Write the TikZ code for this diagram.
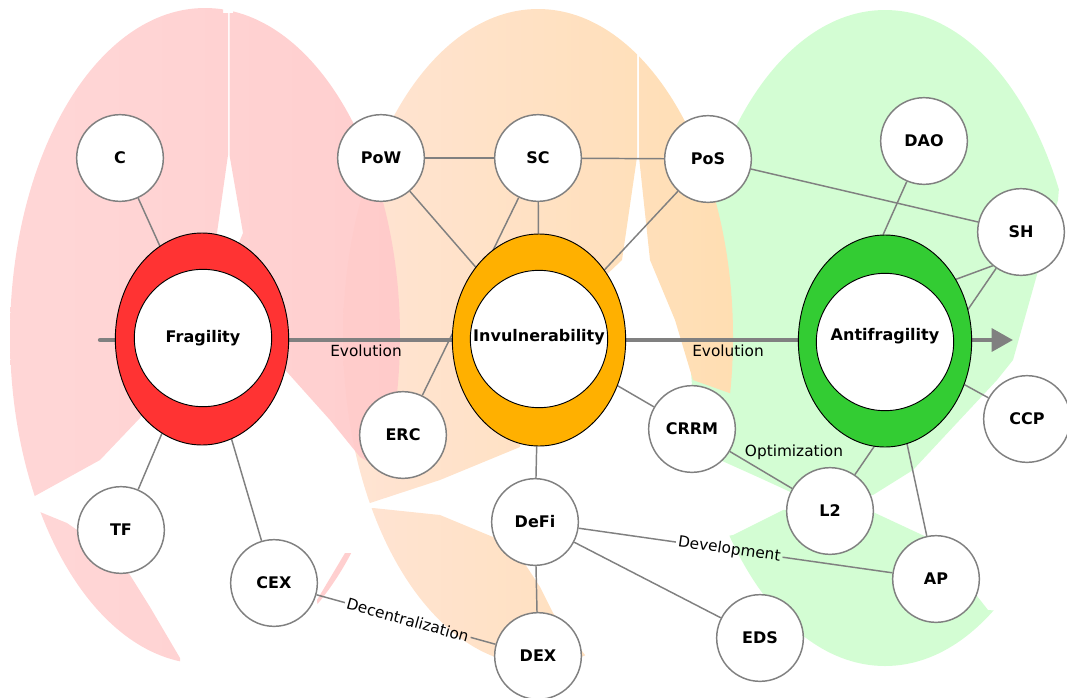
\documentclass[tikz,border=0pt]{standalone}
\usepackage{fontspec}
\setmainfont{DejaVu Sans}
\usetikzlibrary{shapes.geometric, arrows.meta}
\pgfdeclarelayer{blobs}
\pgfdeclarelayer{edges}
\pgfsetlayers{blobs,edges,main}
\definecolor{ringred}{HTML}{FF3333}
\definecolor{ringorange}{HTML}{FFB000}
\definecolor{ringgreen}{HTML}{33CC33}
\definecolor{edgegray}{HTML}{808080}
\definecolor{blobgreen}{HTML}{D3FDD3}
\definecolor{oraL}{HTML}{FFE4D4}
\definecolor{oraR}{HTML}{FFDEB2}
\definecolor{redL}{HTML}{FFD3D3}
\definecolor{redM}{HTML}{FFC0C0}
\definecolor{redR}{HTML}{FFCACA}
\tikzset{
  leaf/.style={circle, draw=edgegray, line width=1.1pt, fill=white, minimum size=65pt, inner sep=0pt, font=\fontsize{12}{14}\selectfont\bfseries},
  ringstyle/.style={ellipse, draw=black, line width=0.7pt, minimum width=130pt, minimum height=159pt, inner sep=0pt},
  corestyle/.style={ellipse, draw=black, line width=0.7pt, fill=white, minimum width=103pt, minimum height=103pt, inner sep=0pt},
  coretext/.style={inner sep=0pt, font=\fontsize{12}{14}\selectfont\bfseries},
  edgeline/.style={draw=edgegray, line width=1.1pt},
  evoarrow/.style={draw=edgegray, line width=3.2pt, line cap=round, -{Triangle[length=16pt,width=17pt]}},
  lbl/.style={font=\fontsize{11.5}{13}\selectfont, inner sep=1.5pt},
}
\begin{document}
\begin{tikzpicture}[x=0.75pt, y=-0.75pt]
\useasboundingbox (0,0) rectangle (1067,697);

% ---------- background blobs ----------
\begin{pgfonlayer}{blobs}
\begin{scope}
  \clip (885,338) ellipse [x radius=195, y radius=328];
  \begin{scope}[even odd rule]
  \clip (-50,-50) rectangle (1120,750)
    (1062,150) -- (1058,200) -- (1013,360) -- (997,380) -- (913,470) -- (873,495) -- (830,500) -- (797,495) -- (760,478) -- (720,460) -- (680,455) -- (680,545) -- (733,535) -- (783,510) -- (830,506) -- (873,512) -- (933,540) -- (988,610) -- (1120,620) -- (1120,150) -- cycle;
  \fill[blobgreen] (-50,-50) rectangle (1120,750);
  \end{scope}
\end{scope}
\begin{scope}
  \clip (538,337) ellipse [x radius=195, y radius=328];
  \begin{scope}[even odd rule]
  \clip (-50,-50) rectangle (1120,750)
    (637,-10) -- (639,-10) -- (639,157) -- (650,260) -- (675,320) -- (693,380) -- (735,395) -- (770,395) -- (770,720) -- (590,720) -- (585,655) -- (553,613) -- (540,587) -- (527,567) -- (510,545) -- (493,537) -- (440,515) -- (373,508) -- (330,508) -- (330,503) -- (370,503) -- (440,480) -- (520,447) -- (538,340) -- (622,260) -- (637,157) -- cycle;
  \shade[left color=oraL, right color=oraR] (343,0) rectangle (733,697);
  \end{scope}
\end{scope}
\begin{scope}[opacity=0.92]
  \clip (205,336) ellipse [x radius=195, y radius=328];
  \begin{scope}[even odd rule]
  \clip (-50,-50) rectangle (1120,750)
    (223,-10) -- (233,-10) -- (233,13) -- (229.5,13) -- (229.5,155) -- (243,233) -- (215,300) -- (287,372) -- (330,420) -- (360,457) -- (383,470) -- (430,470) -- (430,553) -- (345,553) -- (317,600) -- (330,720) -- (180,720) -- (180,658) -- (150,607) -- (130,575) -- (110,553) -- (67,523) -- (40,512) -- (-10,512) -- (-10,497) -- (33,497) -- (100,460) -- (140,418) -- (190,350) -- (217,233) -- (228,155) -- (228,13) -- (223,13) -- cycle;
  \shade[left color=redL, middle color=redM, right color=redR] (10,0) rectangle (400,697);
  \end{scope}
\end{scope}
\end{pgfonlayer}

% ---------- main rings ----------
\node[ringstyle, fill=ringred] (frag) at (202,339) {};
\node[corestyle] (fragc) at (203,338) {};
\node[coretext] (fragt) at (203,338) {Fragility};
\node[ringstyle, fill=ringorange] (invul) at (539,340) {};
\node[corestyle] (invulc) at (539,339) {};
\node[coretext] (invult) at (539,337) {Invulnerability};
\node[ringstyle, fill=ringgreen] (anti) at (885,341) {};
\node[corestyle] (antic) at (885,342) {};
\node[coretext] (antit) at (885,336) {Antifragility};

% ---------- leaf nodes ----------
\node[leaf] (C) at (120,158) {C};
\node[leaf] (PoW) at (381,158) {PoW};
\node[leaf] (SC) at (538,158) {SC};
\node[leaf] (PoS) at (708,159) {PoS};
\node[leaf] (DAO) at (924,141) {DAO};
\node[leaf] (SH) at (1021,232) {SH};
\node[leaf] (ERC) at (403,435) {ERC};
\node[leaf] (CRRM) at (692,429) {CRRM};
\node[leaf] (DeFi) at (535,522) {DeFi};
\node[leaf] (DEX) at (538,656) {DEX};
\node[leaf] (EDS) at (760,638) {EDS};
\node[leaf] (TF) at (121,530) {TF};
\node[leaf] (CEX) at (274,583) {CEX};
\node[leaf] (L2) at (830,511) {L2};
\node[leaf] (AP) at (936,579) {AP};
\node[leaf] (CCP) at (1027,419) {CCP};

% ---------- labels ----------
\node[lbl] (ev1) at (366,351) {Evolution};
\node[lbl] (ev2) at (728,351) {Evolution};
\node[lbl] (opt) at (794,452) {Optimization};
\path (DeFi) -- (AP) node[lbl, sloped, pos=0.48] (devl) {Development};
\path (CEX) -- (DEX) node[lbl, sloped, pos=0.51] (decl) {Decentralization};

\coordinate (arrS) at (100,340);
\coordinate (arrE) at (1013,340);

% ---------- connectors ----------
\begin{pgfonlayer}{edges}
\draw[evoarrow] (arrS) -- (arrE);
\draw[edgeline] (C) -- (frag);
\draw[edgeline] (TF) -- (frag);
\draw[edgeline] (CEX) -- (frag);
\draw[edgeline] (CEX) -- (decl);
\draw[edgeline] (decl) -- (DEX);
\draw[edgeline] (PoW) -- (SC);
\draw[edgeline] (SC) -- (PoS);
\draw[edgeline] (PoW) -- (invul);
\draw[edgeline] (SC) -- (invul);
\draw[edgeline] (PoS) -- (invul);
\draw[edgeline] (ERC) -- (SC);
\draw[edgeline] (CRRM) -- (invul);
\draw[edgeline] (DeFi) -- (invul);
\draw[edgeline] (DeFi) -- (DEX);
\draw[edgeline] (DeFi) -- (EDS);
\draw[edgeline] (DeFi) -- (devl);
\draw[edgeline] (devl) -- (AP);
\draw[edgeline] (CRRM) -- (L2);
\draw[edgeline] (AP) -- (anti);
\draw[edgeline] (CCP) -- (anti);
\draw[edgeline] (DAO.247) -- (anti.91);
\draw[edgeline] (SH.230) -- (anti.41);
\draw[edgeline] (SH) -- (L2);
\draw[edgeline] (PoS) -- (SH);
\end{pgfonlayer}
\end{tikzpicture}
\end{document}
